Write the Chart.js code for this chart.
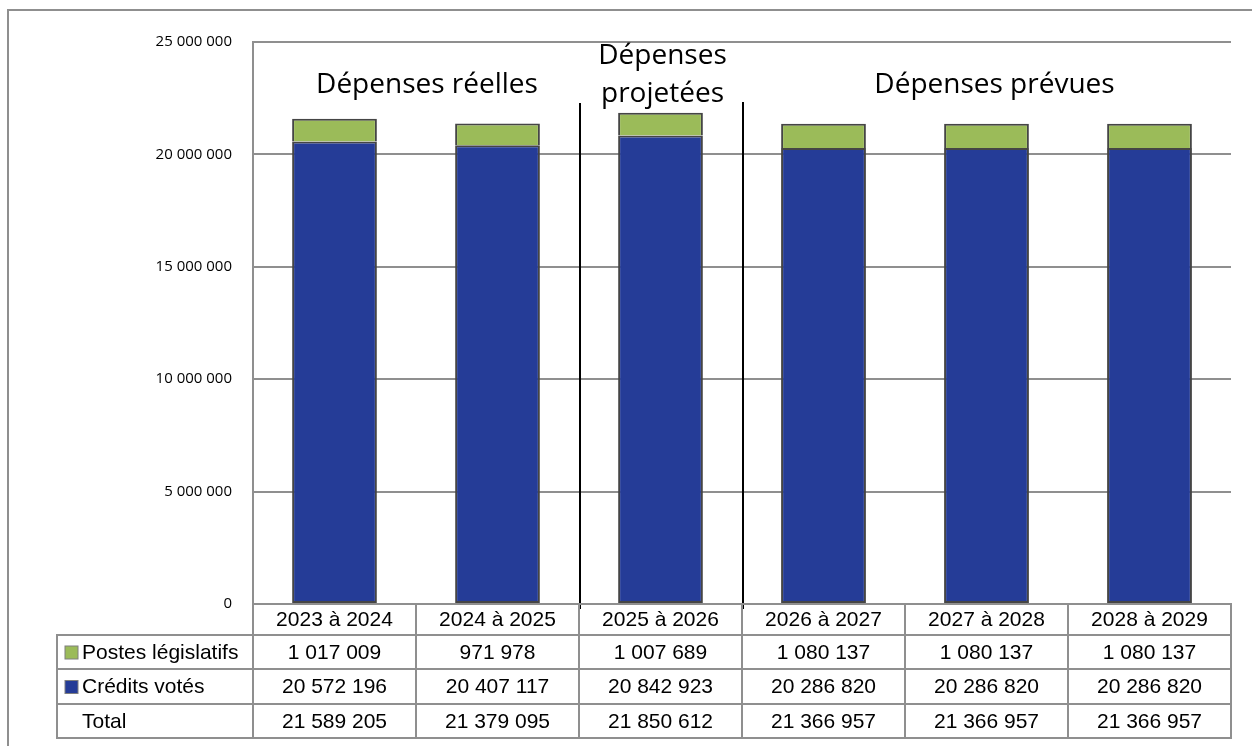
<!DOCTYPE html>
<html>
<head>
<meta charset="utf-8">
<script src="https://cdn.jsdelivr.net/npm/chart.js@4"></script>
<style>
  body { margin: 0; background: #fff; }
</style>
</head>
<body>
<canvas id="chart" width="1252" height="746"></canvas>
<script>
const categories = ["2023 à 2024", "2024 à 2025", "2025 à 2026", "2026 à 2027", "2027 à 2028", "2028 à 2029"];
const postesLegislatifs = [1017009, 971978, 1007689, 1080137, 1080137, 1080137];
const creditsVotes = [20572196, 20407117, 20842923, 20286820, 20286820, 20286820];
const yTicks = [0, 5000000, 10000000, 15000000, 20000000, 25000000];

const GREEN = "#9bbb59";
const BLUE = "#253c97";
const GRID = "#8f8f8f";

function fmt(n) {
    return String(n).replace(/\B(?=(\d{3})+(?!\d))/g, " ");
}

// table + section labels + outer frame
const extras = {
    id: "extras",
    beforeDraw(chart) {
        const c = chart.ctx;
        c.save();
        c.strokeStyle = GRID;
        c.lineWidth = 2;
        c.beginPath();
        c.moveTo(8, 746);
        c.lineTo(8, 10);
        c.lineTo(1252, 10);
        c.stroke();
        c.restore();
    },
    afterDraw(chart) {
        const c = chart.ctx;
        const x = chart.scales.x;
        const area = chart.chartArea;
        const colW = x.getPixelForValue(1) - x.getPixelForValue(0);

        // section dividers
        c.save();
        c.strokeStyle = "#000";
        c.lineWidth = 2;
        [[1.5, 103], [2.5, 102]].forEach(([v, top]) => {
            const px = x.getPixelForValue(v) + 1;
            c.beginPath();
            c.moveTo(px, top);
            c.lineTo(px, area.bottom + 5);
            c.stroke();
        });

        // section titles
        c.fillStyle = "#000";
        c.font = "28px 'Open Sans'";
        c.textAlign = "center";
        c.textBaseline = "middle";
        c.fillText("Dépenses réelles", x.getPixelForValue(0.5) + 11, 85);
        c.fillText("Dépenses", x.getPixelForValue(2) + 2, 56);
        c.fillText("projetées", x.getPixelForValue(2) + 2, 94);
        c.fillText("Dépenses prévues", x.getPixelForValue(4) + 8, 85);

        // data table
        const rowY = [area.bottom, 635, 669, 704, 738];
        const labelLeft = 57;
        const rows = [
            { label: "Postes législatifs", color: GREEN, values: postesLegislatifs },
            { label: "Crédits votés", color: BLUE, values: creditsVotes },
            { label: "Total", color: null, values: creditsVotes.map((v, i) => v + postesLegislatifs[i]) }
        ];

        c.strokeStyle = GRID;
        c.lineWidth = 2;
        // header row cells
        c.strokeRect(area.left, rowY[0], area.right - area.left, rowY[1] - rowY[0]);
        // body rows
        c.strokeRect(labelLeft, rowY[1], area.right - labelLeft, rowY[4] - rowY[1]);
        [2, 3].forEach(r => {
            c.beginPath();
            c.moveTo(labelLeft, rowY[r]);
            c.lineTo(area.right, rowY[r]);
            c.stroke();
        });
        for (let i = 0; i < categories.length; i++) {
            const left = x.getPixelForValue(i) - colW / 2;
            c.beginPath();
            c.moveTo(left, i === 0 ? rowY[1] : rowY[0]);
            c.lineTo(left, rowY[4]);
            c.stroke();
        }

        c.font = "21px 'Liberation Sans', Arial";
        c.fillStyle = "#000";
        c.textAlign = "center";
        categories.forEach((cat, i) => {
            c.fillText(cat, x.getPixelForValue(i), (rowY[0] + rowY[1]) / 2 + 1);
        });
        rows.forEach((row, r) => {
            const mid = (rowY[r + 1] + rowY[r + 2]) / 2 + 1;
            if (row.color) {
                c.fillStyle = row.color;
                c.fillRect(65, mid - 7, 13, 13);
                c.strokeStyle = "#7f7f7f";
                c.lineWidth = 1;
                c.strokeRect(65, mid - 7, 13, 13);
            }
            c.fillStyle = "#000";
            c.textAlign = "left";
            c.fillText(row.label, 82, mid);
            c.textAlign = "center";
            row.values.forEach((v, i) => {
                c.fillText(fmt(v), x.getPixelForValue(i), mid);
            });
        });
        c.restore();
    }
};

new Chart(document.getElementById("chart").getContext("2d"), {
    type: "bar",
    data: {
        labels: categories,
        datasets: [{
            label: "Crédits votés",
            data: creditsVotes,
            backgroundColor: BLUE,
            borderColor: "#454545",
            borderWidth: 2,
            borderSkipped: false
        }, {
            label: "Postes législatifs",
            data: postesLegislatifs,
            backgroundColor: GREEN,
            borderColor: "#454545",
            borderWidth: 2,
            borderSkipped: "bottom"
        }]
    },
    options: {
        responsive: false,
        animation: false,
        layout: { padding: { left: 0, top: 42, right: 21, bottom: 142 } },
        datasets: { bar: { categoryPercentage: 1, barPercentage: 0.52 } },
        plugins: {
            legend: { display: false },
            tooltip: { enabled: false }
        },
        scales: {
            x: { stacked: true, display: false },
            y: {
                stacked: true,
                min: 0,
                max: 25000000,
                afterBuildTicks: s => { s.ticks = yTicks.map(v => ({ value: v })); },
                afterFit: s => { s.width = 253; },
                ticks: {
                    padding: 21,
                    color: "#000",
                    font: { family: "'Open Sans'", size: 15 },
                    callback: v => fmt(v)
                },
                grid: { color: GRID, lineWidth: 2, drawTicks: false },
                border: { color: GRID, width: 2 }
            }
        }
    },
    plugins: [extras]
});
</script>
</body>
</html>
